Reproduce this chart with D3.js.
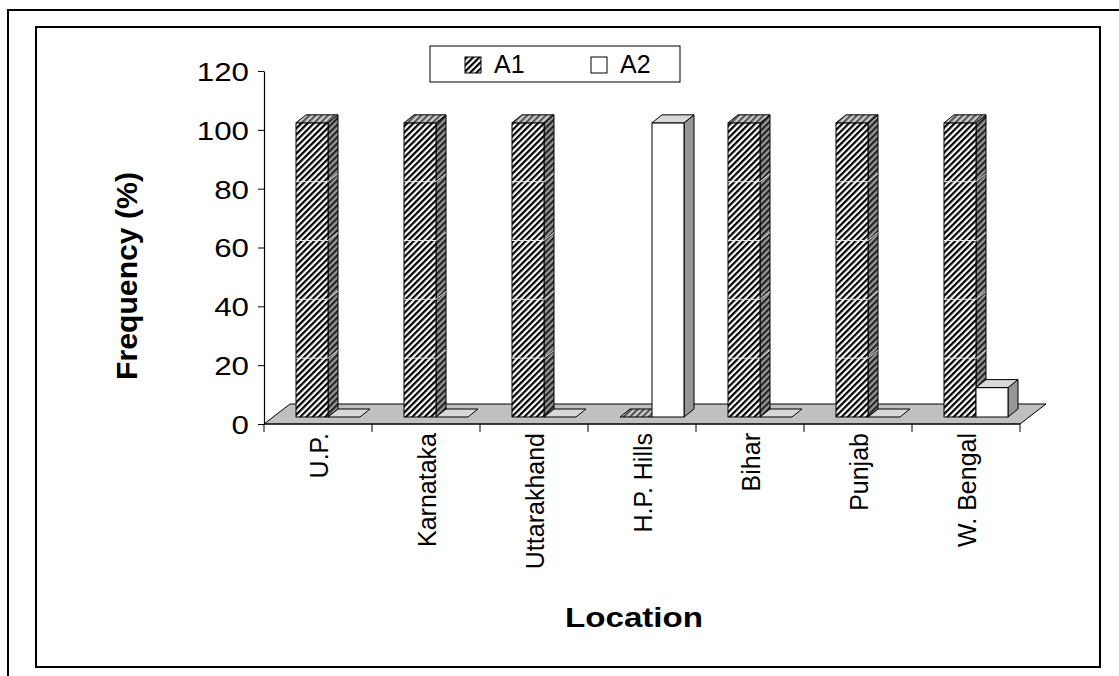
<!DOCTYPE html>
<html>
<head>
<meta charset="utf-8">
<script src="https://cdn.jsdelivr.net/npm/d3@7"></script>
<style>
	body { margin: 0; background: #fff; }
	svg { display: block; font-family: "Liberation Sans", Arial, sans-serif; }
</style>
</head>
<body>
<div id="chart"></div>
<script>
// chart data
var categories = ['U.P.', 'Karnataka', 'Uttarakhand', 'H.P. Hills', 'Bihar', 'Punjab', 'W. Bengal'];
var a1Values = [100, 100, 100, 0, 100, 100, 100];
var a2Values = [0, 0, 0, 100, 0, 0, 10];
var seriesNames = ['A1', 'A2'];
var yTicks = [0, 20, 40, 60, 80, 100, 120];

var width = 1119, height = 676;

var svg = d3.select('#chart').append('svg')
	.attr('width', width)
	.attr('height', height);

// stripe patterns for A1
var defs = svg.append('defs');
function stripes(id, bg, fg){
	var p = defs.append('pattern')
		.attr('id', id)
		.attr('patternUnits', 'userSpaceOnUse')
		.attr('width', 4.4)
		.attr('height', 4.4)
		.attr('patternTransform', 'rotate(45)');
	p.append('rect').attr('width', 4.4).attr('height', 4.4).attr('fill', bg);
	p.append('rect').attr('width', 2.2).attr('height', 4.4).attr('fill', fg);
}
stripes('a1front', '#fff', '#000');
stripes('a1side', '#9a9a9a', '#222');
stripes('a1top', '#d0d0d0', '#555');

var fills = {
	A1 : { front : 'url(#a1front)', side : 'url(#a1side)', top : 'url(#a1top)', grid : true },
	A2 : { front : '#fff', side : '#969696', top : '#d8d8d8', grid : false }
};

// outer frames
svg.append('rect')
	.attr('x', 8).attr('y', 10)
	.attr('width', 1300).attr('height', 900)
	.attr('fill', 'none').attr('stroke', '#000').attr('stroke-width', 2);
svg.append('rect')
	.attr('x', 36).attr('y', 27)
	.attr('width', 1064).attr('height', 640)
	.attr('fill', '#fff').attr('stroke', '#000').attr('stroke-width', 2);

var x = d3.scaleBand().domain(categories).range([264, 1020]);
var y = d3.scaleLinear().domain([0, 120]).range([424, 71]);

// 3d offsets
var depthX = 26, depthY = -20;   // floor depth
var shiftX = 10, shiftY = -7;    // bars sit a bit behind the front edge
var extX = 10, extY = -8;        // bar thickness
var barW = 32;

// floor
var x0 = x.range()[0], x1 = x.range()[1], y0 = y(0);
svg.append('polygon')
	.attr('points', [[x0, y0], [x1, y0], [x1 + depthX, y0 + depthY], [x0 + depthX, y0 + depthY]].join(' '))
	.attr('fill', '#c0c0c0')
	.attr('stroke', '#000')
	.attr('stroke-width', 1);

// y axis
var yAxis = svg.append('g')
	.attr('transform', 'translate(' + x0 + ',0)')
	.call(d3.axisLeft(y).tickValues(yTicks).tickSize(6).tickSizeOuter(0));
yAxis.select('.domain').attr('stroke', '#000').attr('stroke-width', 1.2);
yAxis.selectAll('.tick line').attr('stroke', '#000');
yAxis.selectAll('.tick text')
	.attr('x', -15)
	.attr('dy', '0.36em')
	.attr('fill', '#000')
	.attr('font-size', 26)
	.attr('font-family', '"Liberation Sans", Arial, sans-serif')
	.attr('textLength', function(d){ return String(d).length * 17.4; })
	.attr('lengthAdjust', 'spacingAndGlyphs');

// x axis line and boundary ticks
svg.append('line')
	.attr('x1', x0).attr('x2', x1)
	.attr('y1', y0).attr('y2', y0)
	.attr('stroke', '#000').attr('stroke-width', 1.2);
var bounds = categories.map(function(c){ return x(c); }).concat([x1]);
svg.selectAll('.xtick')
	.data(bounds)
	.enter()
	.append('line')
	.attr('class', 'xtick')
	.attr('x1', function(d){ return d; })
	.attr('x2', function(d){ return d; })
	.attr('y1', y0)
	.attr('y2', y0 + 8)
	.attr('stroke', '#000');

// bars
var bars = [];
categories.forEach(function(c, i){
	var pad = (x.bandwidth() - 2 * barW) / 2;
	bars.push({ name : 'A1', v : a1Values[i], x : x(c) + pad + shiftX });
	bars.push({ name : 'A2', v : a2Values[i], x : x(c) + pad + shiftX + barW });
});

var barG = svg.append('g');
bars.forEach(function(b){
	var g = barG.append('g');
	var bottom = y(0) + shiftY;
	var top = y(b.v) + shiftY;
	var f = fills[b.name];
	if (b.v > 0){
		g.append('polygon')
			.attr('points', [[b.x + barW, top], [b.x + barW + extX, top + extY], [b.x + barW + extX, bottom + extY], [b.x + barW, bottom]].join(' '))
			.attr('fill', f.side).attr('stroke', '#000').attr('stroke-width', 1);
		g.append('rect')
			.attr('x', b.x).attr('y', top)
			.attr('width', barW).attr('height', bottom - top)
			.attr('fill', f.front).attr('stroke', '#000').attr('stroke-width', 1);
		// faint gridlines showing across the striped bars
		if (f.grid){
			yTicks.filter(function(t){ return t > 0 && t < b.v; }).forEach(function(t){
				var gy = y(t) + shiftY;
				g.append('polyline')
					.attr('points', [[b.x, gy], [b.x + barW, gy], [b.x + barW + extX, gy + extY]].join(' '))
					.attr('fill', 'none').attr('stroke', '#e6e6e6').attr('stroke-width', 1);
			});
		}
	}
	g.append('polygon')
		.attr('points', [[b.x, top], [b.x + extX, top + extY], [b.x + barW + extX, top + extY], [b.x + barW, top]].join(' '))
		.attr('fill', f.top).attr('stroke', '#000').attr('stroke-width', 1);
});

// category labels
svg.selectAll('.catlabel')
	.data(categories)
	.enter()
	.append('text')
	.attr('class', 'catlabel')
	.attr('transform', function(d){ return 'translate(' + (x(d) + x.bandwidth() / 2 + 1) + ',433) rotate(-90)'; })
	.attr('text-anchor', 'end')
	.attr('dy', '0.36em')
	.attr('font-size', 25)
	.text(function(d){ return d; });

// axis titles
svg.append('text')
	.attr('transform', 'translate(127,276) rotate(-90)')
	.attr('text-anchor', 'middle')
	.attr('dy', '0.36em')
	.attr('font-size', 29)
	.attr('font-weight', 'bold')
	.attr('textLength', 208)
	.attr('lengthAdjust', 'spacingAndGlyphs')
	.text('Frequency (%)');

svg.append('text')
	.attr('x', 634).attr('y', 627)
	.attr('text-anchor', 'middle')
	.attr('font-size', 28)
	.attr('font-weight', 'bold')
	.attr('textLength', 138)
	.attr('lengthAdjust', 'spacingAndGlyphs')
	.text('Location');

// legend
var legend = svg.append('g');
legend.append('rect')
	.attr('x', 430).attr('y', 46)
	.attr('width', 250).attr('height', 36)
	.attr('fill', '#fff').attr('stroke', '#000').attr('stroke-width', 1);
var legendX = [465, 591];
seriesNames.forEach(function(s, i){
	legend.append('rect')
		.attr('x', legendX[i]).attr('y', 57)
		.attr('width', 16).attr('height', 16)
		.attr('fill', fills[s].front).attr('stroke', '#000').attr('stroke-width', 1);
	legend.append('text')
		.attr('x', legendX[i] + 29).attr('y', 73)
		.attr('font-size', 25)
		.text(s);
});
</script>
</body>
</html>
